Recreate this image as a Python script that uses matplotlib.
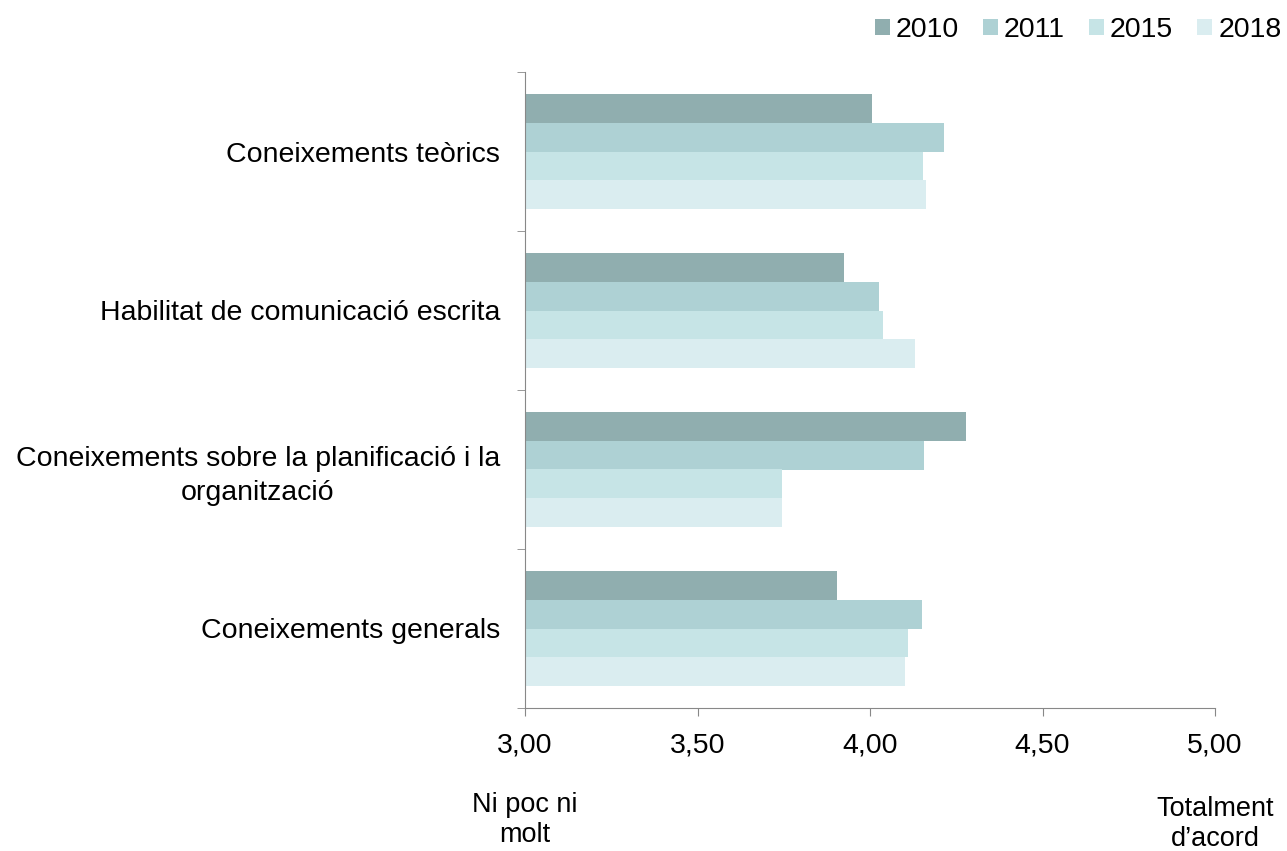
import matplotlib.pyplot as plt
import numpy as np

plt.rcParams['font.family'] = ['Liberation Sans', 'DejaVu Sans']

categories = ['Coneixements teòrics', 'Habilitat de comunicació escrita',
              'Coneixements sobre la planificació i la\norganització',
              'Coneixements generals']
years = ['2010', '2011', '2015', '2018']
v2010 = [4.006, 3.926, 4.279, 3.905]
v2011 = [4.214, 4.026, 4.157, 4.151]
v2015 = [4.154, 4.038, 3.745, 4.110]
v2018 = [4.162, 4.130, 3.745, 4.102]
series = [v2010, v2011, v2015, v2018]
colors = ['#90aeaf', '#aed1d4', '#c6e4e6', '#daedf0']

fig = plt.figure(figsize=(12.87, 8.51), dpi=100)
ax = fig.add_axes([525 / 1287, 1 - 708 / 851, 690 / 1287, 636 / 851])

y = np.arange(len(categories))
h = 0.18
for i, (vals, col) in enumerate(zip(series, colors)):
    pos = y - 1.5 * h + i * h
    ax.barh(pos, np.array(vals) - 3, left=3, height=h, color=col,
            label=years[i], edgecolor='none')

ax.set_xlim(3, 5)
ax.set_ylim(len(categories) - 0.5, -0.5)
ax.set_xticks([3, 3.5, 4, 4.5, 5])
ax.set_xticklabels(['3,00', '3,50', '4,00', '4,50', '5,00'], fontsize=20.5)
ax.set_yticks(y)
ax.set_yticklabels(categories, fontsize=20.5, ha='right', multialignment='center',
                   linespacing=1.35)
ax.tick_params(axis='y', length=0, pad=18)
ax.set_yticks(np.arange(-0.5, len(categories), 1), minor=True)
ax.tick_params(axis='y', which='minor', length=6, color='#888888')
ax.tick_params(axis='x', length=6, color='#888888', pad=12)

for s in ['top', 'right']:
    ax.spines[s].set_visible(False)
for s in ['left', 'bottom']:
    ax.spines[s].set_color('#888888')

fig.text(525 / 1287, 1 - 820 / 851, 'Ni poc ni\nmolt', ha='center', va='center',
         fontsize=19.5, linespacing=1.15)
fig.text(1215 / 1287, 1 - 824 / 851, 'Totalment\nd\u2019acord', ha='center',
         va='center', fontsize=19.5, linespacing=1.15)

ax.legend(loc='upper right', bbox_to_anchor=(1307 / 1287, 1.01), bbox_transform=fig.transFigure,
          ncol=4, frameon=False, fontsize=20.5, handlelength=0.53, handleheight=0.53,
          handletextpad=0.2, columnspacing=0.85)

fig.savefig('out.png', dpi=100)
